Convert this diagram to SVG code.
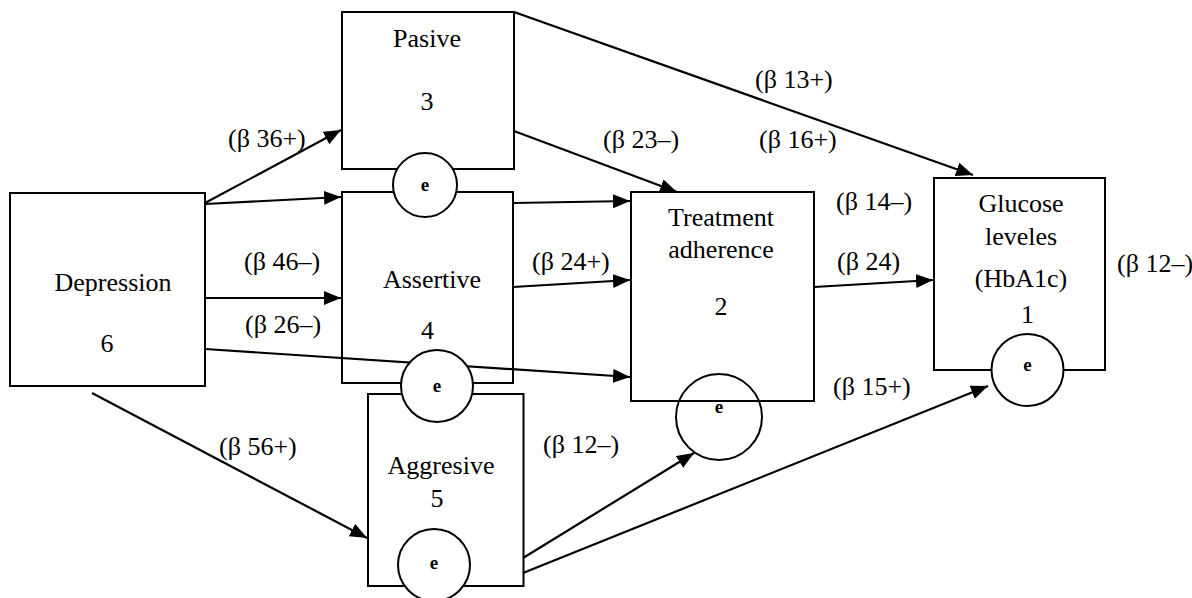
<svg xmlns="http://www.w3.org/2000/svg" width="1192" height="598" viewBox="0 0 1192 598">
<style>
.box{fill:none;stroke:#000;stroke-width:2}
.err{fill:#fff;stroke:#000;stroke-width:2}
.conn line{stroke:#000;stroke-width:2.2}
text{font-family:'Liberation Serif','Times New Roman',Times,serif;font-size:26px;fill:#000}
.c{text-anchor:middle}
.e{font-size:19px;font-weight:bold;text-anchor:middle}
</style>
<defs>
<marker id="ah" markerUnits="userSpaceOnUse" markerWidth="18" markerHeight="14" refX="17" refY="7" orient="auto">
<path d="M0,0 L17,7 L0,14 z" fill="#000"/>
</marker>
</defs>
<g id="boxes">
<rect id="pasive-box" class="box" x="342" y="12" width="172" height="157"/>
<rect id="depression-box" class="box" x="10" y="193" width="195" height="193"/>
<rect id="assertive-box" class="box" x="342" y="192" width="171" height="191"/>
<rect id="aggresive-box" class="box" x="368" y="394" width="155.5" height="192"/>
<rect id="treatment-box" class="box" x="631" y="192" width="183" height="209"/>
<rect id="glucose-box" class="box" x="934" y="178" width="171" height="192"/>
</g>
<g id="connectors" class="conn">
<line x1="205" y1="203" x2="341" y2="130" marker-end="url(#ah)"/>
<line x1="205" y1="204" x2="341" y2="197" marker-end="url(#ah)"/>
<line x1="205" y1="298" x2="341" y2="298" marker-end="url(#ah)"/>
<line x1="205" y1="349" x2="630" y2="377" marker-end="url(#ah)"/>
<line x1="92" y1="393" x2="367" y2="538" marker-end="url(#ah)"/>
<line x1="514" y1="131" x2="677" y2="192" marker-end="url(#ah)"/>
<line x1="514" y1="12" x2="973" y2="175" marker-end="url(#ah)"/>
<line x1="513" y1="203" x2="630" y2="201" marker-end="url(#ah)"/>
<line x1="513" y1="287" x2="630" y2="280" marker-end="url(#ah)"/>
<line x1="814" y1="287" x2="933" y2="280" marker-end="url(#ah)"/>
<line x1="523" y1="558" x2="694" y2="453" marker-end="url(#ah)"/>
<line x1="523" y1="573" x2="988" y2="386" marker-end="url(#ah)"/>
</g>
<g id="pasive">
<text class="c" x="427" y="47">Pasive</text>
<text class="c" x="427" y="110">3</text>
<circle class="err" cx="425" cy="185" r="32"/>
<text class="e" x="425" y="191">e</text>
</g>
<g id="depression">
<text class="c" x="113" y="291">Depression</text>
<text class="c" x="107" y="352">6</text>
</g>
<g id="assertive">
<text class="c" x="432" y="288">Assertive</text>
<text class="c" x="427.5" y="339">4</text>
<circle class="err" cx="437" cy="386" r="36"/>
<text class="e" x="437" y="392">e</text>
</g>
<g id="aggresive">
<text class="c" x="441" y="474">Aggresive</text>
<text class="c" x="437" y="507">5</text>
<circle class="err" cx="434" cy="565" r="36"/>
<text class="e" x="434" y="569">e</text>
</g>
<g id="treatment">
<text class="c" x="721" y="226">Treatment</text>
<text class="c" x="721" y="258">adherence</text>
<text class="c" x="721" y="315">2</text>
<circle cx="719" cy="417" r="43" fill="none" stroke="#000" stroke-width="2"/>
<text class="e" x="719" y="413">e</text>
</g>
<g id="glucose">
<text class="c" x="1021" y="212">Glucose</text>
<text class="c" x="1021" y="245">leveles</text>
<text class="c" x="1021" y="287">(HbA1c)</text>
<text class="c" x="1027.5" y="323">1</text>
<circle class="err" cx="1027.5" cy="370" r="36"/>
<text class="e" x="1027.5" y="371">e</text>
</g>
<g id="labels">
<text x="228" y="147">(β 36+)</text>
<text x="244" y="270">(β 46–)</text>
<text x="245" y="333">(β 26–)</text>
<text x="219" y="455">(β 56+)</text>
<text x="532" y="270">(β 24+)</text>
<text x="603" y="148">(β 23–)</text>
<text x="755" y="88">(β 13+)</text>
<text x="759" y="148">(β 16+)</text>
<text x="836" y="210">(β 14–)</text>
<text x="837" y="270">(β 24)</text>
<text x="1117" y="272">(β 12–)</text>
<text x="543" y="453">(β 12–)</text>
<text x="833" y="395">(β 15+)</text>
</g>
</svg>
